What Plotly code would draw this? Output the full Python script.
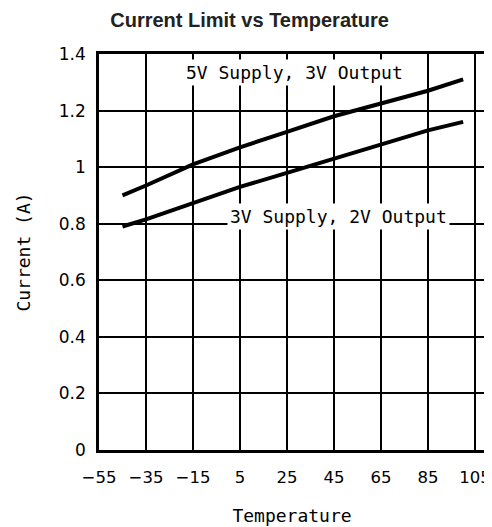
import plotly.graph_objects as go

temps = [-45, -35, -15, 5, 25, 45, 65, 85, 100]
supply5_out3 = [0.90, 0.935, 1.01, 1.07, 1.125, 1.18, 1.225, 1.27, 1.31]
supply3_out2 = [0.79, 0.815, 0.873, 0.93, 0.98, 1.03, 1.083, 1.13, 1.16]

x_ticks = [-55, -35, -15, 5, 25, 45, 65, 85, 105]
x_tick_text = ["\u221255", "\u221235", "\u221215", "5", "25", "45", "65", "85", "105"]
y_ticks = [0, 0.2, 0.4, 0.6, 0.8, 1.0, 1.2, 1.4]
y_tick_text = ["0", "0.2", "0.4", "0.6", "0.8", "1", "1.2", "1.4"]

label_upper = "5V Supply, 3V Output"
label_lower = "3V Supply, 2V Output"

MONO = "DejaVu Sans Mono"
SANS = "DejaVu Sans"

fig = go.Figure()
fig.add_trace(go.Scatter(x=temps, y=supply5_out3, mode="lines",
                         line=dict(color="black", width=4), showlegend=False))
fig.add_trace(go.Scatter(x=temps, y=supply3_out2, mode="lines",
                         line=dict(color="black", width=4), showlegend=False))

fig.add_annotation(x=28.3, y=1.336, text=label_upper, showarrow=False,
                   font=dict(family=MONO, size=18, color="black"),
                   bgcolor="white", borderpad=2)
fig.add_annotation(x=47.1, y=0.826, text=label_lower, showarrow=False,
                   font=dict(family=MONO, size=18, color="black"),
                   bgcolor="white", borderpad=2)

# page body has an 8px default margin, so the figure is 8px smaller
fig.update_layout(
    width=484, height=519,
    margin=dict(l=91, r=7, t=46, b=77, autoexpand=False),
    paper_bgcolor="white", plot_bgcolor="white",
    title=dict(text="<b>Current Limit vs Temperature</b>", x=0.499, xanchor="center",
               y=0.977, yanchor="middle",
               font=dict(family="Liberation Sans", size=20, color="#222")),
    font=dict(family=SANS, size=17, color="black"),
)
fig.update_xaxes(range=[-55, 109.3], tickvals=x_ticks, ticktext=x_tick_text,
                 showgrid=True, gridcolor="black", gridwidth=1.5,
                 showline=True, linecolor="black", linewidth=2.5, mirror=True,
                 zeroline=False, ticks="", ticklabelstandoff=10, automargin=False,
                 tickfont=dict(family=SANS, size=16.5),
                 title=dict(text="Temperature", standoff=24,
                            font=dict(family=MONO, size=18)))
fig.update_yaxes(range=[0, 1.4], tickvals=y_ticks, ticktext=y_tick_text,
                 showgrid=True, gridcolor="black", gridwidth=1.5,
                 showline=True, linecolor="black", linewidth=2.5, mirror=True,
                 zeroline=False, ticks="", ticklabelstandoff=7, automargin=False,
                 tickfont=dict(family=SANS, size=17),
                 title=dict(text="Current (A)", standoff=24,
                            font=dict(family=MONO, size=18)))

fig.write_html("out.html")
